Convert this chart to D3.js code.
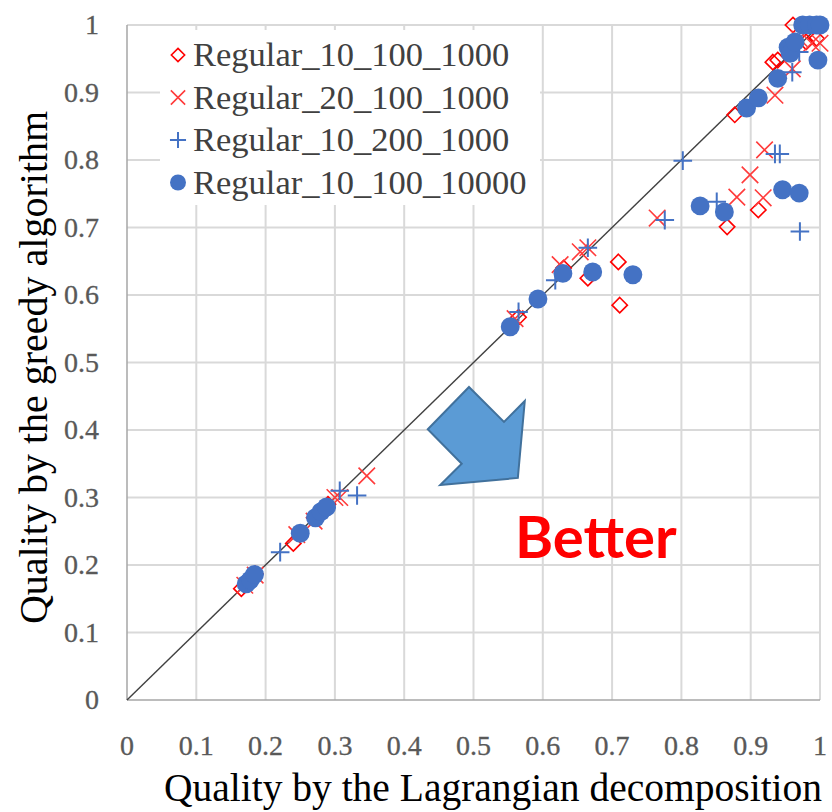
<!DOCTYPE html>
<html>
<head>
<meta charset="utf-8">
<script src="https://cdn.jsdelivr.net/npm/d3@7"></script>
<style>
  body { margin: 0; background: #fff; }
  svg { display: block; }
</style>
</head>
<body>
<svg id="chart" width="832" height="812"></svg>
<script>
const seriesNames = [
  'Regular_10_100_1000',
  'Regular_20_100_1000',
  'Regular_10_200_1000',
  'Regular_10_100_10000',
];

// [Lagrangian, greedy]
const diamondPoints = [
  [0.165, 0.165], [0.175, 0.175], [0.185, 0.187], [0.24, 0.232], [0.27, 0.27],
  [0.28, 0.28], [0.29, 0.29], [0.565, 0.567], [0.63, 0.64], [0.665, 0.625],
  [0.709, 0.649], [0.711, 0.585], [0.866, 0.701], [0.911, 0.726], [0.877, 0.867],
  [0.932, 0.945], [0.939, 0.948], [0.961, 1.0], [0.98, 0.975], [0.995, 0.98],
];

const timesPoints = [
  [0.17, 0.17], [0.185, 0.185], [0.245, 0.245], [0.27, 0.265], [0.3, 0.3],
  [0.307, 0.3], [0.346, 0.332], [0.56, 0.565], [0.625, 0.645], [0.654, 0.664],
  [0.665, 0.67], [0.765, 0.714], [0.88, 0.745], [0.918, 0.744], [0.899, 0.778],
  [0.92, 0.815], [0.935, 0.896], [0.96, 0.935], [0.97, 0.98], [0.988, 0.973],
  [1.0, 0.973],
];

const plusPoints = [
  [0.221, 0.219], [0.307, 0.31], [0.332, 0.303], [0.565, 0.575], [0.618, 0.622],
  [0.665, 0.67], [0.776, 0.711], [0.802, 0.799], [0.851, 0.738], [0.935, 0.809],
  [0.942, 0.809], [0.971, 0.694], [0.96, 0.93], [0.97, 0.96],
];

const circlePoints = [
  [0.172, 0.172], [0.178, 0.178], [0.184, 0.186], [0.25, 0.247], [0.272, 0.27],
  [0.28, 0.279], [0.288, 0.286], [0.553, 0.553], [0.593, 0.594], [0.629, 0.632],
  [0.672, 0.634], [0.73, 0.63], [0.827, 0.732], [0.862, 0.723], [0.946, 0.756],
  [0.97, 0.751], [0.894, 0.877], [0.911, 0.892], [0.939, 0.921], [0.954, 0.967],
  [0.957, 0.958], [0.964, 0.975], [0.997, 0.948], [0.975, 1.0], [0.985, 1.0],
  [0.995, 1.0], [1.0, 1.0],
];

const tickValues = [0, 0.1, 0.2, 0.3, 0.4, 0.5, 0.6, 0.7, 0.8, 0.9, 1];
const tickLabels = ['0', '0.1', '0.2', '0.3', '0.4', '0.5', '0.6', '0.7', '0.8', '0.9', '1'];

// block arrow outline, in data units
const arrowShape = [
  [0.4935, 0.4637], [0.544, 0.412], [0.574, 0.443], [0.564, 0.329],
  [0.452, 0.3185], [0.483, 0.35], [0.434, 0.401],
];

const xTitle = 'Quality by the Lagrangian decomposition';
const yTitle = 'Quality by the greedy algorithm';
const noteText = 'Better';

const svg = d3.select('#chart');
const serif = '"Liberation Serif", "Times New Roman", serif';

const x = d3.scaleLinear().domain([0, 1]).range([127, 820]);
const y = d3.scaleLinear().domain([0, 1]).range([700, 25]);

// gridlines
const grid = svg.append('g');
grid.selectAll('line.v').data(tickValues.slice(1)).join('line')
  .attr('x1', (d) => x(d)).attr('x2', (d) => x(d))
  .attr('y1', y(0)).attr('y2', y(1))
  .attr('stroke', '#d9d9d9').attr('stroke-width', 2);
grid.selectAll('line.h').data(tickValues.slice(1)).join('line')
  .attr('x1', x(0)).attr('x2', x(1))
  .attr('y1', (d) => y(d)).attr('y2', (d) => y(d))
  .attr('stroke', '#d9d9d9').attr('stroke-width', 2);

// axis lines
svg.append('line')
  .attr('x1', x(0)).attr('x2', x(0)).attr('y1', y(0)).attr('y2', y(1))
  .attr('stroke', '#a6a6a6').attr('stroke-width', 1.5);
svg.append('line')
  .attr('x1', x(0)).attr('x2', x(1)).attr('y1', y(0)).attr('y2', y(0))
  .attr('stroke', '#a6a6a6').attr('stroke-width', 1.5);

// tick labels
svg.append('g').selectAll('text').data(tickValues).join('text')
  .attr('x', (d) => x(d))
  .attr('y', y(0) + 55)
  .attr('text-anchor', 'middle')
  .attr('font-family', serif)
  .attr('font-size', 28)
  .attr('fill', '#595959')
  .attr('stroke', '#595959')
  .attr('stroke-width', 0.3)
  .text((d, i) => tickLabels[i]);

svg.append('g').selectAll('text').data(tickValues).join('text')
  .attr('x', 99)
  .attr('y', (d) => y(d) + 9)
  .attr('text-anchor', 'end')
  .attr('font-family', serif)
  .attr('font-size', 28)
  .attr('fill', '#595959')
  .attr('stroke', '#595959')
  .attr('stroke-width', 0.3)
  .text((d, i) => tickLabels[i]);

// axis titles
svg.append('text')
  .attr('x', 493).attr('y', 801)
  .attr('text-anchor', 'middle')
  .attr('font-family', serif)
  .attr('font-size', 39.5)
  .attr('fill', '#000')
  .text(xTitle);

svg.append('text')
  .attr('transform', `translate(47,${y(0.5) + 5}) rotate(-90)`)
  .attr('text-anchor', 'middle')
  .attr('font-family', serif)
  .attr('font-size', 40)
  .attr('fill', '#000')
  .text(yTitle);

// diagonal reference line
svg.append('line')
  .attr('x1', x(0)).attr('y1', y(0)).attr('x2', x(1)).attr('y2', y(1))
  .attr('stroke', '#404040').attr('stroke-width', 1.4);

// legend box (white, hides grid)
svg.append('rect')
  .attr('x', 160).attr('y', 30).attr('width', 380).attr('height', 175)
  .attr('fill', '#fff');

const red = '#ff0000';
const blue = '#4472c4';

const markers = [
  { points: diamondPoints, type: d3.symbolDiamond2, size: 150, fill: 'none', stroke: red, width: 1.6 },
  { points: timesPoints, type: d3.symbolTimes, size: 180, fill: 'none', stroke: '#ff3b3b', width: 1.6 },
  { points: plusPoints, type: d3.symbolPlus, size: 115, fill: 'none', stroke: blue, width: 2 },
  { points: circlePoints, type: d3.symbolCircle, size: 280, fill: blue, stroke: 'none', width: 0 },
];

markers.forEach((m) => {
  const path = d3.symbol().type(m.type).size(m.size)();
  svg.append('g').selectAll('path').data(m.points).join('path')
    .attr('transform', (d) => `translate(${x(d[0])},${y(d[1])})`)
    .attr('d', path)
    .attr('fill', m.fill)
    .attr('stroke', m.stroke)
    .attr('stroke-width', m.width);
});

// legend entries
const legend = svg.append('g');
markers.forEach((m, i) => {
  const cy = 55 + i * 42.5;
  const size = m.type === d3.symbolCircle ? 200 : m.size * 0.75;
  legend.append('path')
    .attr('transform', `translate(178,${cy})`)
    .attr('d', d3.symbol().type(m.type).size(size)())
    .attr('fill', m.fill)
    .attr('stroke', m.stroke)
    .attr('stroke-width', m.width);
  legend.append('text')
    .attr('x', 193).attr('y', cy + 11)
    .attr('font-family', serif)
    .attr('font-size', 34.5)
    .attr('fill', '#404040')
    .text(seriesNames[i]);
});

// "better" annotation arrow
svg.append('path')
  .attr('d', d3.line().x((d) => x(d[0])).y((d) => y(d[1])).curve(d3.curveLinearClosed)(arrowShape))
  .attr('fill', '#5b9bd5')
  .attr('stroke', '#41719c')
  .attr('stroke-width', 2)
  .attr('stroke-linejoin', 'miter');

svg.append('text')
  .attr('x', x(0.56)).attr('y', y(0.211))
  .attr('font-family', 'Lato, "Open Sans", sans-serif')
  .attr('font-weight', 'bold')
  .attr('font-size', 58)
  .attr('fill', '#ff0000')
  .text(noteText);
</script>
</body>
</html>
